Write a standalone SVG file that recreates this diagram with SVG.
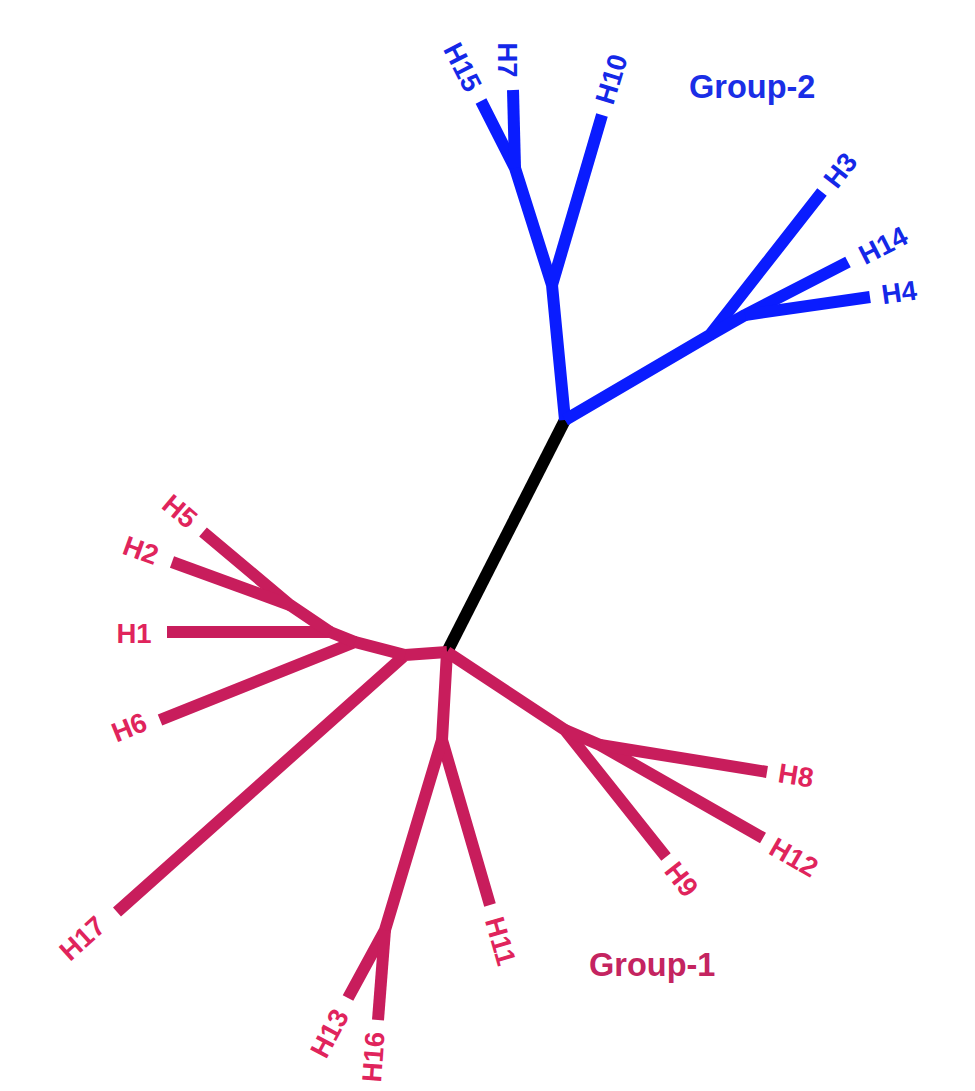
<svg xmlns="http://www.w3.org/2000/svg" width="975" height="1091" viewBox="0 0 975 1091">
<style>
.e{fill:none;stroke-width:12;stroke-linecap:butt;stroke-linejoin:round}
.b{stroke:#0a1cff}
.p{stroke:#c81d5c}
.k{stroke:#000}
.t{font-family:"Liberation Sans",Arial,sans-serif;font-weight:bold;font-size:27.5px;text-anchor:middle}
.tb{fill:#1428e8}
.tp{fill:#e0245c}
.g{font-family:"Liberation Sans",Arial,sans-serif;font-weight:bold;font-size:32.5px}
</style>
<rect width="975" height="1091" fill="#fff"/>
<g id="connectors">
<path class="e k" d="M565,420 L447,652"/>
<path class="e b" d="M565,420 L552,285 L515,168 L481,101"/>
<path class="e b" d="M515,168 L513,90"/>
<path class="e b" d="M552,285 L602,115"/>
<path class="e b" d="M565,420 L710,335 L822,192"/>
<path class="e b" d="M710,335 L745,315 L848,262"/>
<path class="e b" d="M745,315 L870,297"/>
<path class="e p" d="M447,652 L405,655 L117,912"/>
<path class="e p" d="M405,655 L355,642 L160,720"/>
<path class="e p" d="M355,642 L330,632 L167,632"/>
<path class="e p" d="M330,632 L290,605 L203,532"/>
<path class="e p" d="M290,605 L172,562"/>
<path class="e p" d="M447,652 L442,740 L490,905"/>
<path class="e p" d="M442,740 L385,930 L348,998"/>
<path class="e p" d="M385,930 L378,1020"/>
<path class="e p" d="M447,652 L565,730 L666,857"/>
<path class="e p" d="M565,730 L600,745 L763,838"/>
<path class="e p" d="M600,745 L767,772"/>
</g>
<g id="H15"><text class="t tb" transform="translate(463,67) rotate(63)" dy="0.36em">H15</text></g>
<g id="H7"><text class="t tb" transform="translate(508,60) rotate(90)" dy="0.36em">H7</text></g>
<g id="H10"><text class="t tb" transform="translate(611,79) rotate(-73)" dy="0.36em">H10</text></g>
<g id="H3"><text class="t tb" transform="translate(840,170) rotate(-52)" dy="0.36em">H3</text></g>
<g id="H14"><text class="t tb" transform="translate(883,245) rotate(-27)" dy="0.36em">H14</text></g>
<g id="H4"><text class="t tb" transform="translate(899,292) rotate(-8)" dy="0.36em">H4</text></g>
<g id="H5"><text class="t tp" transform="translate(180,511) rotate(40)" dy="0.36em">H5</text></g>
<g id="H2"><text class="t tp" transform="translate(141,550) rotate(20)" dy="0.36em">H2</text></g>
<g id="H1"><text class="t tp" transform="translate(134,633)" dy="0.36em">H1</text></g>
<g id="H6"><text class="t tp" transform="translate(129,727) rotate(-22)" dy="0.36em">H6</text></g>
<g id="H17"><text class="t tp" transform="translate(82,938) rotate(-42)" dy="0.36em">H17</text></g>
<g id="H13"><text class="t tp" transform="translate(329,1033) rotate(-62)" dy="0.36em">H13</text></g>
<g id="H16"><text class="t tp" transform="translate(373,1057) rotate(-86)" dy="0.36em">H16</text></g>
<g id="H11"><text class="t tp" transform="translate(501,941) rotate(74)" dy="0.36em">H11</text></g>
<g id="H9"><text class="t tp" transform="translate(682,879) rotate(52)" dy="0.36em">H9</text></g>
<g id="H12"><text class="t tp" transform="translate(794,857) rotate(30)" dy="0.36em">H12</text></g>
<g id="H8"><text class="t tp" transform="translate(796,775) rotate(9)" dy="0.36em">H8</text></g>
<g id="group2"><text class="g" x="689" y="98" fill="#1a2ee6">Group-2</text></g>
<g id="group1"><text class="g" x="589" y="976" fill="#c42460">Group-1</text></g>
</svg>
